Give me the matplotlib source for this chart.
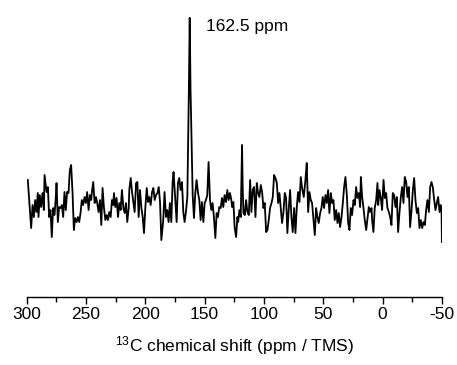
import matplotlib
matplotlib.use("Agg")
import matplotlib.pyplot as plt

plt.rcParams['font.family'] = ['Liberation Sans', 'DejaVu Sans']
plt.rcParams['mathtext.fontset'] = 'custom'
plt.rcParams['mathtext.rm'] = 'Liberation Sans'
plt.rcParams['mathtext.default'] = 'regular'
plt.rcParams['axes.unicode_minus'] = False

# chemical shift (ppm) and intensity (a.u.)
shift = [
    298.9, 296.1, 294.9, 293.8, 292.7, 291.6, 290.5, 289.9, 288.8, 287.7,
    286.5, 285.4, 284.8, 283.1, 282.0, 280.9, 279.8, 278.7, 277.6, 276.4,
    275.3, 274.7, 273.6, 272.5, 271.3, 270.2, 269.1, 268.0, 266.9, 265.8,
    264.6, 263.5, 262.4, 261.2, 260.1, 259.0, 257.8, 256.7, 255.6, 254.5,
    253.4, 252.3, 251.1, 250.0, 248.9, 247.7, 246.6, 245.5,
    244.9, 243.8, 242.6, 241.5, 240.4, 239.3, 238.1, 237.0, 235.9, 234.8,
    233.6, 232.5, 231.4, 230.3, 229.1, 228.0, 226.9, 226.3, 225.2, 224.1,
    222.9, 221.8, 220.7, 219.6, 218.4, 217.3, 216.2, 215.1, 213.9, 213.4,
    212.2, 211.1, 210.0, 208.9, 207.7, 206.6, 205.5, 204.4, 203.2, 202.1,
    201.0, 199.9, 198.7, 197.6, 196.5, 195.4, 194.2, 193.1, 192.0, 190.9,
    189.7, 188.6, 187.5, 186.4,
    184.8, 183.7, 182.5, 181.4, 180.3, 179.2, 178.0, 176.9, 176.1, 174.7,
    173.5, 172.4, 171.3, 170.2, 169.0, 167.9, 166.8, 165.7, 164.5, 163.2,
    162.5, 161.8, 160.0, 158.9, 157.8, 156.7, 155.5, 154.4, 153.3, 152.2,
    151.0, 149.9, 148.8, 147.7, 146.6, 145.4, 144.3, 143.2, 142.1, 140.9,
    139.8, 138.7, 137.6, 136.4, 135.3, 134.2, 133.1, 131.9, 130.8, 129.7,
    128.6, 127.4,
    126.8, 125.7, 124.6, 123.4, 122.3, 121.7, 120.6, 119.5, 118.9, 118.4,
    117.8, 117.2, 116.1, 115.0, 113.9, 112.7, 111.6, 110.5, 109.4, 108.3,
    107.1, 106.0, 104.9, 103.8, 102.6, 101.5, 100.4, 99.3, 98.1, 97.0,
    95.9, 94.8, 93.6, 92.5, 91.4, 90.3, 89.1, 88.0, 86.9, 85.8,
    84.7, 83.5, 82.4, 81.3, 80.2, 79.0, 77.9, 76.8, 75.7, 74.5,
    73.4, 72.3, 71.2, 70.0, 68.9,
    67.8, 66.4, 65.0, 63.9, 62.7, 61.6, 60.5, 59.4, 58.2, 57.1,
    56.0, 54.9, 53.8, 52.6, 51.5, 50.4, 49.3, 48.1, 47.0, 45.9,
    44.8, 43.6, 42.5, 41.4, 40.3, 39.1, 38.0, 36.9, 35.8, 34.6,
    33.5, 32.4, 31.3, 30.1, 29.0, 27.9, 26.8, 25.7, 24.5, 23.4,
    22.3, 21.2, 20.0, 18.9, 18.3, 17.2, 16.1, 15.0, 13.8, 12.7,
    11.6, 10.5, 9.3,
    8.8, 7.7, 6.6, 5.4, 4.3, 3.7, 2.6, 1.5, 0.4, -0.8,
    -1.9, -3.0, -4.1, -5.3, -6.4, -7.5, -8.6, -9.7, -10.9, -12.0,
    -13.1, -14.2, -15.4, -16.5, -17.6, -18.7, -19.9, -21.0, -22.1, -23.2,
    -24.4, -25.5, -26.6, -27.7, -28.9, -30.0, -31.1, -32.2, -33.4, -34.5,
    -35.6, -36.7, -37.8, -39.0, -40.1, -41.2, -42.3, -43.5, -44.6, -45.7,
    -46.8, -48.0, -49.1, -49.7, -50.0,
]
intensity = [
    15, -33, -10, -22, -5, -17, 2, -22, 0, -12,
    2, -15, 20, 3, 8, -22, -15, -42, -13, -20,
    -2, 12, -27, -12, -13, -10, -22, 3, -15, 3,
    2, 25, 30, 2, -35, -23, -27, -22, -27, -18,
    -5, -10, -2, -8, 3, -15, 0, -5,
    3, 13, -8, -2, -8, -17, -5, -30, 7, -12,
    -25, -20, -25, -17, -22, -5, -10, 2, -12, -3,
    -22, -8, -15, 5, -13, -18, -8, -27, -13, 5,
    17, 3, -7, -17, 12, 13, -22, 5, -13, -22,
    -38, -13, 7, -7, -2, -10, 3, 7, -5, 0,
    2, 8, -7, -45,
    -25, 3, -22, -15, -27, -8, -27, 13, 23, -3,
    -27, 12, 17, 5, 13, -17, -27, -17, -2, 105,
    177, 105, 0, -23, 2, 15, 2, -5, -25, -7,
    -27, -8, -5, 0, 33, -5, -15, -8, -22, -43,
    -18, -22, -12, -13, -3, -12, 0, -7, 5, -5,
    2, -5,
    -12, -7, -33, -42, -22, -27, -15, -22, 20, 50,
    5, -18, -20, -5, -17, -20, 15, -17, 5, 8,
    -22, 12, 2, -2, 10, 3, -13, -8, -37, -35,
    -25, -13, -8, -2, 20, 17, 12, -8, 2, -13,
    -28, -17, 2, -3, -38, -13, 5, -22, -37, -13,
    -38, -13, 3, -7, 18,
    7, -2, 15, 32, -17, 3, -5, -8, -25, -40,
    -13, -22, -28, -18, -13, -2, -13, 0, -8, 5,
    -18, 2, -8, -5, -25, -15, -28, -18, -32, -22,
    -8, 8, 18, 0, -28, -35, -13, -20, -5, -10,
    8, -3, 2, -12, 18, -2, -13, -25, -35, -23,
    -12, -17, -13,
    -25, -37, -13, -5, 12, -10, 5, -3, -15, 15,
    -3, 2, -13, -17, -22, -30, 2, 0, -12, -2,
    -37, -18, -2, 8, -8, 18, 13, -2, 8, -32,
    -15, 5, 17, -5, -18, -13, -33, -25, -33, -27,
    -30, -15, -5, -17, 8, 13, 8, -5, -15, -8,
    -2, -17, -10, -17, -47,
]

peak_ppm = 162.5
peak_int = 177
major_ticks = [300, 250, 200, 150, 100, 50, 0, -50]
minor_ticks = [275, 225, 175, 125, 75, 25, -25]

fig = plt.figure(figsize=(4.57, 3.65), dpi=100)
ax = fig.add_axes([0.058, 0.186, 0.909, 0.787])

ax.plot(shift, intensity, color='black', lw=1.3)
ax.text(peak_ppm - 14, peak_int - 9, '162.5 ppm', fontsize=12.5,
        ha='left', va='center')

ax.set_xlim(300, -50)
ax.set_ylim(-102, 185)
ax.set_xticks(major_ticks)
ax.set_xticks(minor_ticks, minor=True)
ax.set_yticks([])
ax.tick_params(axis='x', which='major', direction='out', length=5, width=1,
               labelsize=12.5, pad=2)
ax.tick_params(axis='x', which='minor', direction='out', length=3.5, width=1)
for s in ['left', 'right', 'top']:
    ax.spines[s].set_visible(False)
ax.spines['bottom'].set_linewidth(1)

ax.set_xlabel('$^{13}$C chemical shift (ppm / TMS)', fontsize=12.5, labelpad=9)

fig.savefig('out.png', dpi=100)
